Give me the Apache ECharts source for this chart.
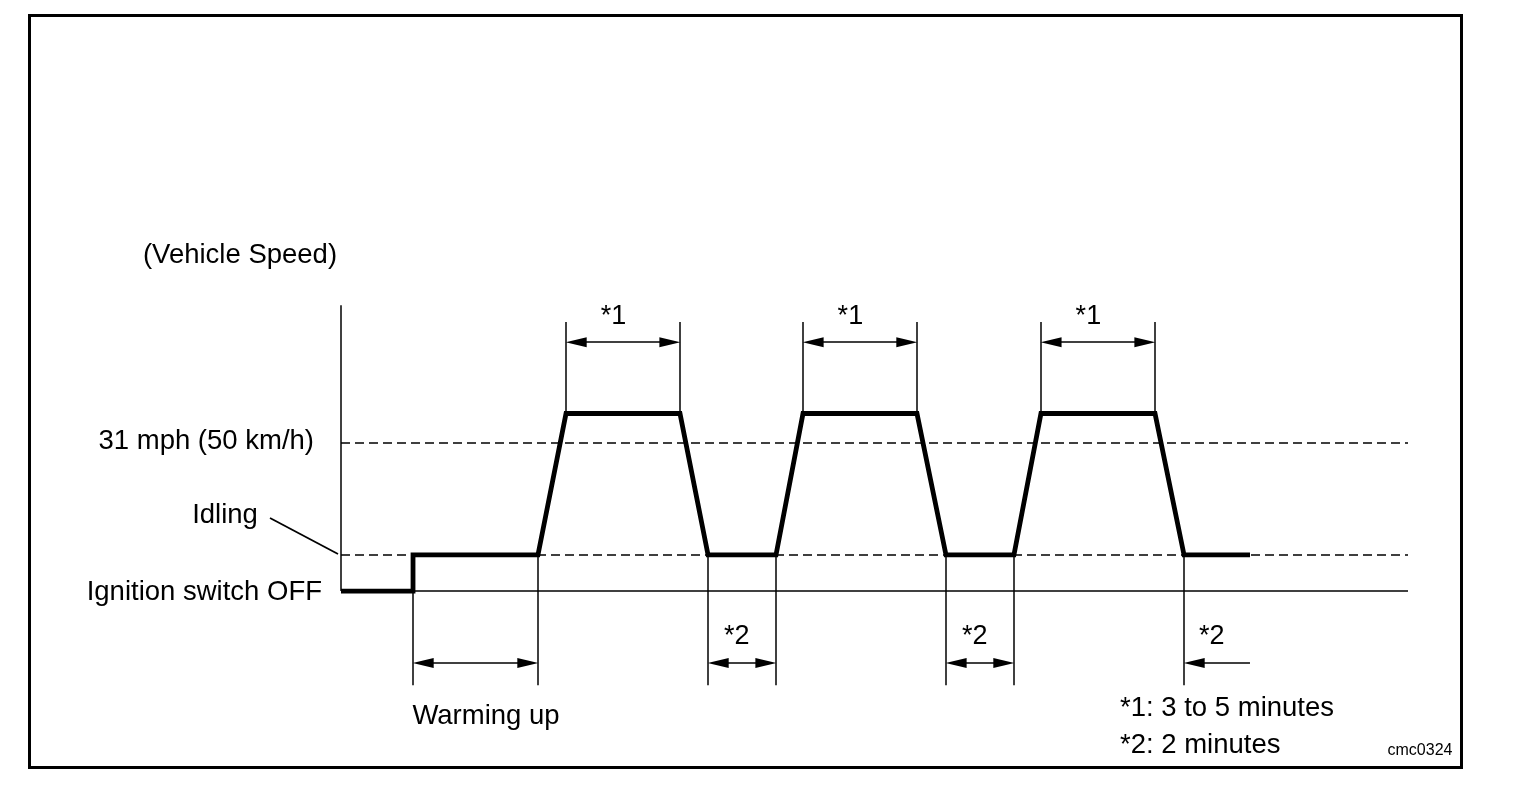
<!DOCTYPE html>
<html>
<head>
<meta charset="utf-8">
<title>Vehicle speed pattern</title>
<script src="https://cdn.jsdelivr.net/npm/echarts@6/dist/echarts.min.js"></script>
<style>
  html, body { margin: 0; padding: 0; background: #fff; }
  #chart { width: 1520px; height: 788px; }
</style>
</head>
<body>
<div id="chart"></div>
<script>
// speed trace: time position (arbitrary units 0-100) and speed (km/h)
const traceTime  = [0, 6.75, 6.75, 18.46, 21.09, 31.77, 34.40, 40.77, 43.30, 53.98, 56.70, 63.07, 65.60, 76.29, 79.01, 85.19];
const traceSpeed = [0, 0, 12.2, 12.2, 60, 60, 12.2, 12.2, 60, 60, 12.2, 12.2, 60, 60, 12.2, 12.2];

// reference levels
const idleLevel = 12.2;
const targetLevel = 50;   // 31 mph (50 km/h)
const offLevel = 0;
const axisTop = 96.6;

// *1 intervals (cruise at 50 km/h)
const cruiseStart = [21.09, 43.30, 65.60];
const cruiseEnd   = [31.77, 53.98, 76.29];
// *2 intervals (idling), last one is open to the right
const idleStart = [34.40, 56.70, 79.01];
const idleEnd   = [40.77, 63.07, 85.19];
// warming up interval
const warmStart = 6.75;
const warmEnd = 18.46;

// marker heights (km/h scale)
const upperTop = 90.9;
const upperArrow = 84.1;
const upperLabel = 92.6;
const lowerBottom = -31.8;
const lowerArrow = -24.3;
const lowerLabel = -15.4;

const chart = echarts.init(document.getElementById('chart'));
const font = '"Liberation Sans", Arial, Helvetica, sans-serif';
const inset = 0.95; // arrow half length in x units

const thin = { color: '#000', width: 1.5, type: 'solid' };
const dashed = { color: '#000', width: 1.6, type: [9, 5] };

function vline(x, y1, y2, style) {
  return [{ coord: [x, y1], lineStyle: style || thin }, { coord: [x, y2] }];
}
function arrow(x1, x2, y, startHead, endHead) {
  return [
    { coord: [startHead ? x1 + inset : x1, y], symbol: startHead ? 'triangle' : 'none', lineStyle: thin },
    { coord: [endHead ? x2 - inset : x2, y], symbol: endHead ? 'triangle' : 'none' }
  ];
}

const lines = [];
// axes and reference levels
lines.push(vline(0, offLevel, axisTop));
lines.push([{ coord: [0, offLevel], lineStyle: thin }, { coord: [100, offLevel] }]);
lines.push([{ coord: [0, idleLevel], lineStyle: dashed }, { coord: [100, idleLevel] }]);
lines.push([{ coord: [0, targetLevel], lineStyle: dashed }, { coord: [100, targetLevel] }]);

// upper *1 markers
cruiseStart.forEach((s, i) => {
  lines.push(vline(s, 60, upperTop));
  lines.push(vline(cruiseEnd[i], 60, upperTop));
  lines.push(arrow(s, cruiseEnd[i], upperArrow, true, true));
});
// warming up markers
lines.push(vline(warmStart, idleLevel, lowerBottom));
lines.push(vline(warmEnd, idleLevel, lowerBottom));
lines.push(arrow(warmStart, warmEnd, lowerArrow, true, true));
// *2 markers
idleStart.forEach((s, i) => {
  const last = i === idleStart.length - 1;
  lines.push(vline(s, idleLevel, lowerBottom));
  if (!last) {
    lines.push(vline(idleEnd[i], idleLevel, lowerBottom));
    lines.push(arrow(s, idleEnd[i], lowerArrow, true, true));
  } else {
    lines.push(arrow(s, idleEnd[i], lowerArrow, true, false));
  }
});

const labelPts = [];
cruiseStart.forEach((s, i) => labelPts.push({ value: [(s + cruiseEnd[i]) / 2 - 0.9, upperLabel], name: '*1' }));
idleStart.forEach((s, i) => labelPts.push({ value: [(s + idleEnd[i]) / 2 - 0.5, lowerLabel], name: '*2' }));

const txt = (x, y, text, align, size) => ({
  type: 'text', x: x, y: y, silent: true,
  style: {
    text: text, fill: '#000', font: (size || 27.5) + 'px ' + font,
    textAlign: align || 'center', textVerticalAlign: 'middle'
  }
});

chart.setOption({
  animation: false,
  backgroundColor: '#fff',
  grid: { left: 341, right: 112, top: 304, bottom: 93.4 },
  xAxis: { type: 'value', min: 0, max: 100, show: false },
  yAxis: { type: 'value', min: -35, max: 97, show: false },
  series: [
    {
      type: 'line',
      data: traceTime.map((t, i) => [t, traceSpeed[i]]),
      symbol: 'none',
      lineStyle: { color: '#000', width: 4.8, join: 'miter' },
      z: 5,
      markLine: {
        silent: true,
        symbol: 'none',
        symbolSize: [10, 21],
        label: { show: false },
        lineStyle: thin,
        data: lines
      }
    },
    {
      type: 'scatter',
      data: labelPts,
      symbolSize: 0,
      itemStyle: { opacity: 1 },
      label: {
        show: true, position: 'inside', formatter: '{b}',
        color: '#000', fontSize: 27, fontFamily: font
      }
    }
  ],
  graphic: [
    {
      type: 'rect', silent: true,
      shape: { x: 29.5, y: 15.5, width: 1432, height: 752 },
      style: { fill: 'none', stroke: '#000', lineWidth: 3 }
    },
    {
      type: 'line', silent: true,
      shape: { x1: 270, y1: 518, x2: 338, y2: 554 },
      style: { stroke: '#000', lineWidth: 1.8 }
    },
    txt(240, 255, '(Vehicle Speed)'),
    txt(314, 441, '31 mph (50 km/h)', 'right'),
    txt(225, 515, 'Idling'),
    txt(322, 592, 'Ignition switch OFF', 'right'),
    txt(486, 716, 'Warming up'),
    txt(1120, 708, '*1: 3 to 5 minutes', 'left'),
    txt(1120, 745, '*2: 2 minutes', 'left'),
    txt(1420, 751, 'cmc0324', 'center', 16)
  ]
});
</script>
</body>
</html>
